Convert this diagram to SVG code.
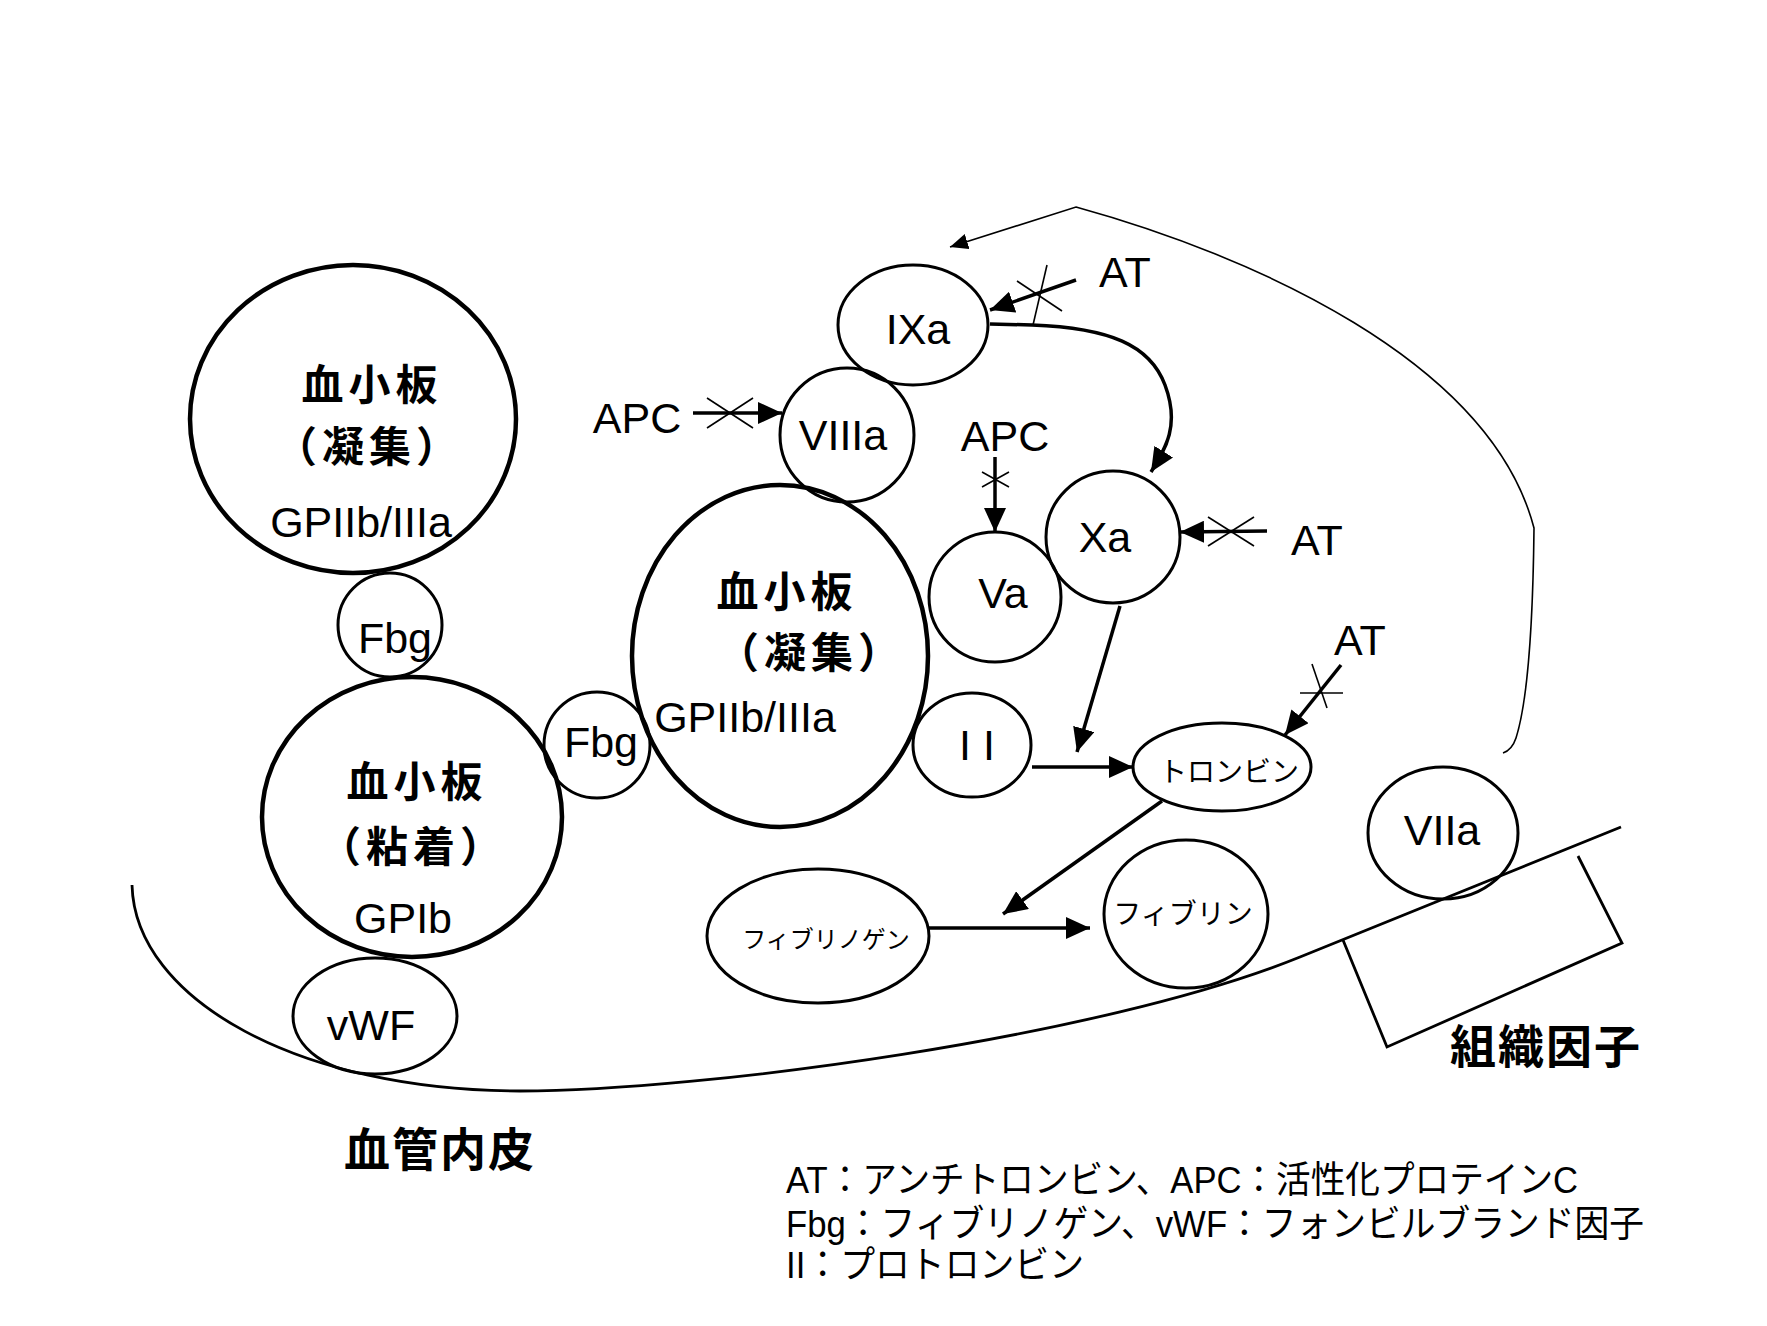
<svg xmlns="http://www.w3.org/2000/svg" width="1767" height="1326" viewBox="0 0 1767 1326">
<style>
  .bg{fill:#fff}
  .plt{fill:none;stroke:#000;stroke-width:4.5}
  .nd{fill:none;stroke:#000;stroke-width:3}
  .lat{font-family:"Liberation Sans","Noto Sans CJK JP",sans-serif;font-size:43px;fill:#000;text-anchor:middle}
  .cjk{font-family:"Noto Sans CJK JP",sans-serif;font-size:42px;font-weight:700;fill:#000;text-anchor:middle;letter-spacing:5px}
  .kana{font-family:"Noto Sans CJK JP",sans-serif;fill:#000;text-anchor:middle}
  .big{font-family:"Noto Sans CJK JP",sans-serif;font-size:46px;font-weight:700;fill:#000;letter-spacing:2px}
  .leg{font-family:"Liberation Sans","Noto Sans CJK JP",sans-serif;font-size:37px;fill:#000}
  .ar{fill:none;stroke:#000;stroke-width:3.5}
  .thin{fill:none;stroke:#000;stroke-width:1.6}
  .vs{fill:none;stroke:#000;stroke-width:2.8}
</style>
<defs>
  <marker id="ah" markerUnits="userSpaceOnUse" markerWidth="26" markerHeight="22" refX="24" refY="11" orient="auto"><path d="M0,0 L24,11 L0,22 z" fill="#000"/></marker>
  <marker id="ahs" markerUnits="userSpaceOnUse" markerWidth="20" markerHeight="18" refX="18" refY="8" orient="auto"><path d="M0,0 L18,8 L0,16 z" fill="#000"/></marker>
</defs>
<rect class="bg" x="0" y="0" width="1767" height="1326"/>

<g id="vessel">
  <path class="vs" d="M132,885 C135,1000 300,1091 520,1091 C700,1091 1100,1038 1300,957 L1621,827"/>
  <polyline class="vs" points="1343,940 1387,1047 1622,943 1578,856"/>
</g>

<g id="platelet-aggr-1">
  <ellipse class="plt" cx="353" cy="419" rx="163" ry="154"/>
  <text class="cjk" x="372" y="400">血小板</text>
  <text class="cjk" x="369" y="462">（凝集）</text>
  <text class="lat" x="361" y="537">GPIIb/IIIa</text>
</g>
<g id="fbg-1">
  <ellipse class="nd" cx="390" cy="625" rx="52" ry="52"/>
  <text class="lat" x="395" y="653">Fbg</text>
</g>
<g id="platelet-adh">
  <ellipse class="plt" cx="412" cy="817" rx="150" ry="140"/>
  <text class="cjk" x="417" y="797">血小板</text>
  <text class="cjk" x="413" y="862">（粘着）</text>
  <text class="lat" x="403" y="933">GPIb</text>
</g>
<g id="vwf">
  <ellipse class="nd" cx="375" cy="1016" rx="82" ry="58"/>
  <text class="lat" x="371" y="1040">vWF</text>
</g>
<g id="fbg-2">
  <ellipse class="nd" cx="597" cy="745" rx="53" ry="53"/>
  <text class="lat" x="601" y="757">Fbg</text>
</g>
<g id="platelet-aggr-2">
  <ellipse class="plt" cx="780" cy="656" rx="148" ry="171"/>
  <text class="cjk" x="787" y="607">血小板</text>
  <text class="cjk" x="811" y="668">（凝集）</text>
  <text class="lat" x="745" y="732">GPIIb/IIIa</text>
</g>
<g id="VIIIa">
  <ellipse class="nd" cx="847" cy="435" rx="67" ry="67"/>
  <text class="lat" x="843" y="450">VIIIa</text>
</g>
<g id="IXa">
  <ellipse class="nd" cx="913" cy="325" rx="75" ry="60"/>
  <text class="lat" x="918" y="344">IXa</text>
</g>
<g id="Va">
  <ellipse class="nd" cx="995" cy="597" rx="66" ry="65"/>
  <text class="lat" x="1003" y="608">Va</text>
</g>
<g id="Xa">
  <ellipse class="nd" cx="1113" cy="537" rx="67" ry="66"/>
  <text class="lat" x="1105" y="552">Xa</text>
</g>
<g id="II">
  <ellipse class="nd" cx="972" cy="745" rx="59" ry="52"/>
  <text class="lat" x="977" y="760">I I</text>
</g>
<g id="thrombin">
  <ellipse class="nd" cx="1222" cy="767" rx="89" ry="44"/>
  <text class="kana" x="1229" y="782" font-size="28">トロンビン</text>
</g>
<g id="fibrinogen">
  <ellipse class="nd" cx="818" cy="936" rx="111" ry="67"/>
  <text class="kana" x="826" y="948" font-size="24">フィブリノゲン</text>
</g>
<g id="fibrin">
  <ellipse class="nd" cx="1186" cy="914" rx="82" ry="74"/>
  <text class="kana" x="1183" y="924" font-size="28">フィブリン</text>
</g>
<g id="VIIa">
  <ellipse class="nd" cx="1443" cy="833" rx="75" ry="66"/>
  <text class="lat" x="1442" y="845">VIIa</text>
</g>

<g id="connectors">
  <line class="ar" x1="693" y1="413" x2="782" y2="413" marker-end="url(#ah)"/>
  <line class="thin" x1="707" y1="398" x2="753" y2="428"/>
  <line class="thin" x1="707" y1="428" x2="753" y2="398"/>
  <line class="ar" x1="995" y1="457" x2="995" y2="532" marker-end="url(#ah)"/>
  <line class="thin" x1="982" y1="472" x2="1009" y2="487"/>
  <line class="thin" x1="982" y1="487" x2="1009" y2="472"/>
  <line class="ar" x1="1076" y1="280" x2="990" y2="310" marker-end="url(#ah)"/>
  <line class="thin" x1="1017" y1="281" x2="1062" y2="311"/>
  <line class="thin" x1="1047" y1="265" x2="1033" y2="325"/>
  <path class="ar" d="M990,324 L1032,325 C1110,328 1150,345 1165,385 C1180,425 1166,448 1151,472" marker-end="url(#ah)"/>
  <line class="ar" x1="1267" y1="531" x2="1180" y2="532" marker-end="url(#ah)"/>
  <line class="thin" x1="1208" y1="517" x2="1254" y2="546"/>
  <line class="thin" x1="1208" y1="546" x2="1254" y2="517"/>
  <line class="ar" x1="1120" y1="606" x2="1077" y2="752" marker-end="url(#ah)"/>
  <line class="ar" x1="1032" y1="767" x2="1133" y2="767" marker-end="url(#ah)"/>
  <line class="ar" x1="1341" y1="665" x2="1285" y2="735" marker-end="url(#ah)"/>
  <line class="thin" x1="1312" y1="664" x2="1327" y2="708"/>
  <line class="thin" x1="1300" y1="693" x2="1343" y2="693"/>
  <line class="ar" x1="1162" y1="801" x2="1003" y2="914" marker-end="url(#ah)"/>
  <line class="ar" x1="929" y1="928" x2="1090" y2="928" marker-end="url(#ah)"/>
  <path class="thin" d="M1503,753 Q1512,750 1516,738 C1528,700 1533,620 1534,528 C1490,360 1250,255 1076,207 L950,247" marker-end="url(#ahs)"/>
</g>

<g id="labels">
  <text class="lat" x="637" y="433">APC</text>
  <text class="lat" x="1005" y="451">APC</text>
  <text class="lat" x="1125" y="287">AT</text>
  <text class="lat" x="1317" y="555">AT</text>
  <text class="lat" x="1360" y="655">AT</text>
  <text class="big" x="344" y="1166">血管内皮</text>
  <text class="big" x="1450" y="1063">組織因子</text>
</g>

<g id="legend">
  <text class="leg" x="786" y="1193" textLength="792" lengthAdjust="spacingAndGlyphs">AT：アンチトロンビン、APC：活性化プロテインC</text>
  <text class="leg" x="786" y="1237" textLength="858" lengthAdjust="spacingAndGlyphs">Fbg：フィブリノゲン、vWF：フォンビルブランド因子</text>
  <text class="leg" x="786" y="1278" textLength="298" lengthAdjust="spacingAndGlyphs">II：プロトロンビン</text>
</g>
</svg>
